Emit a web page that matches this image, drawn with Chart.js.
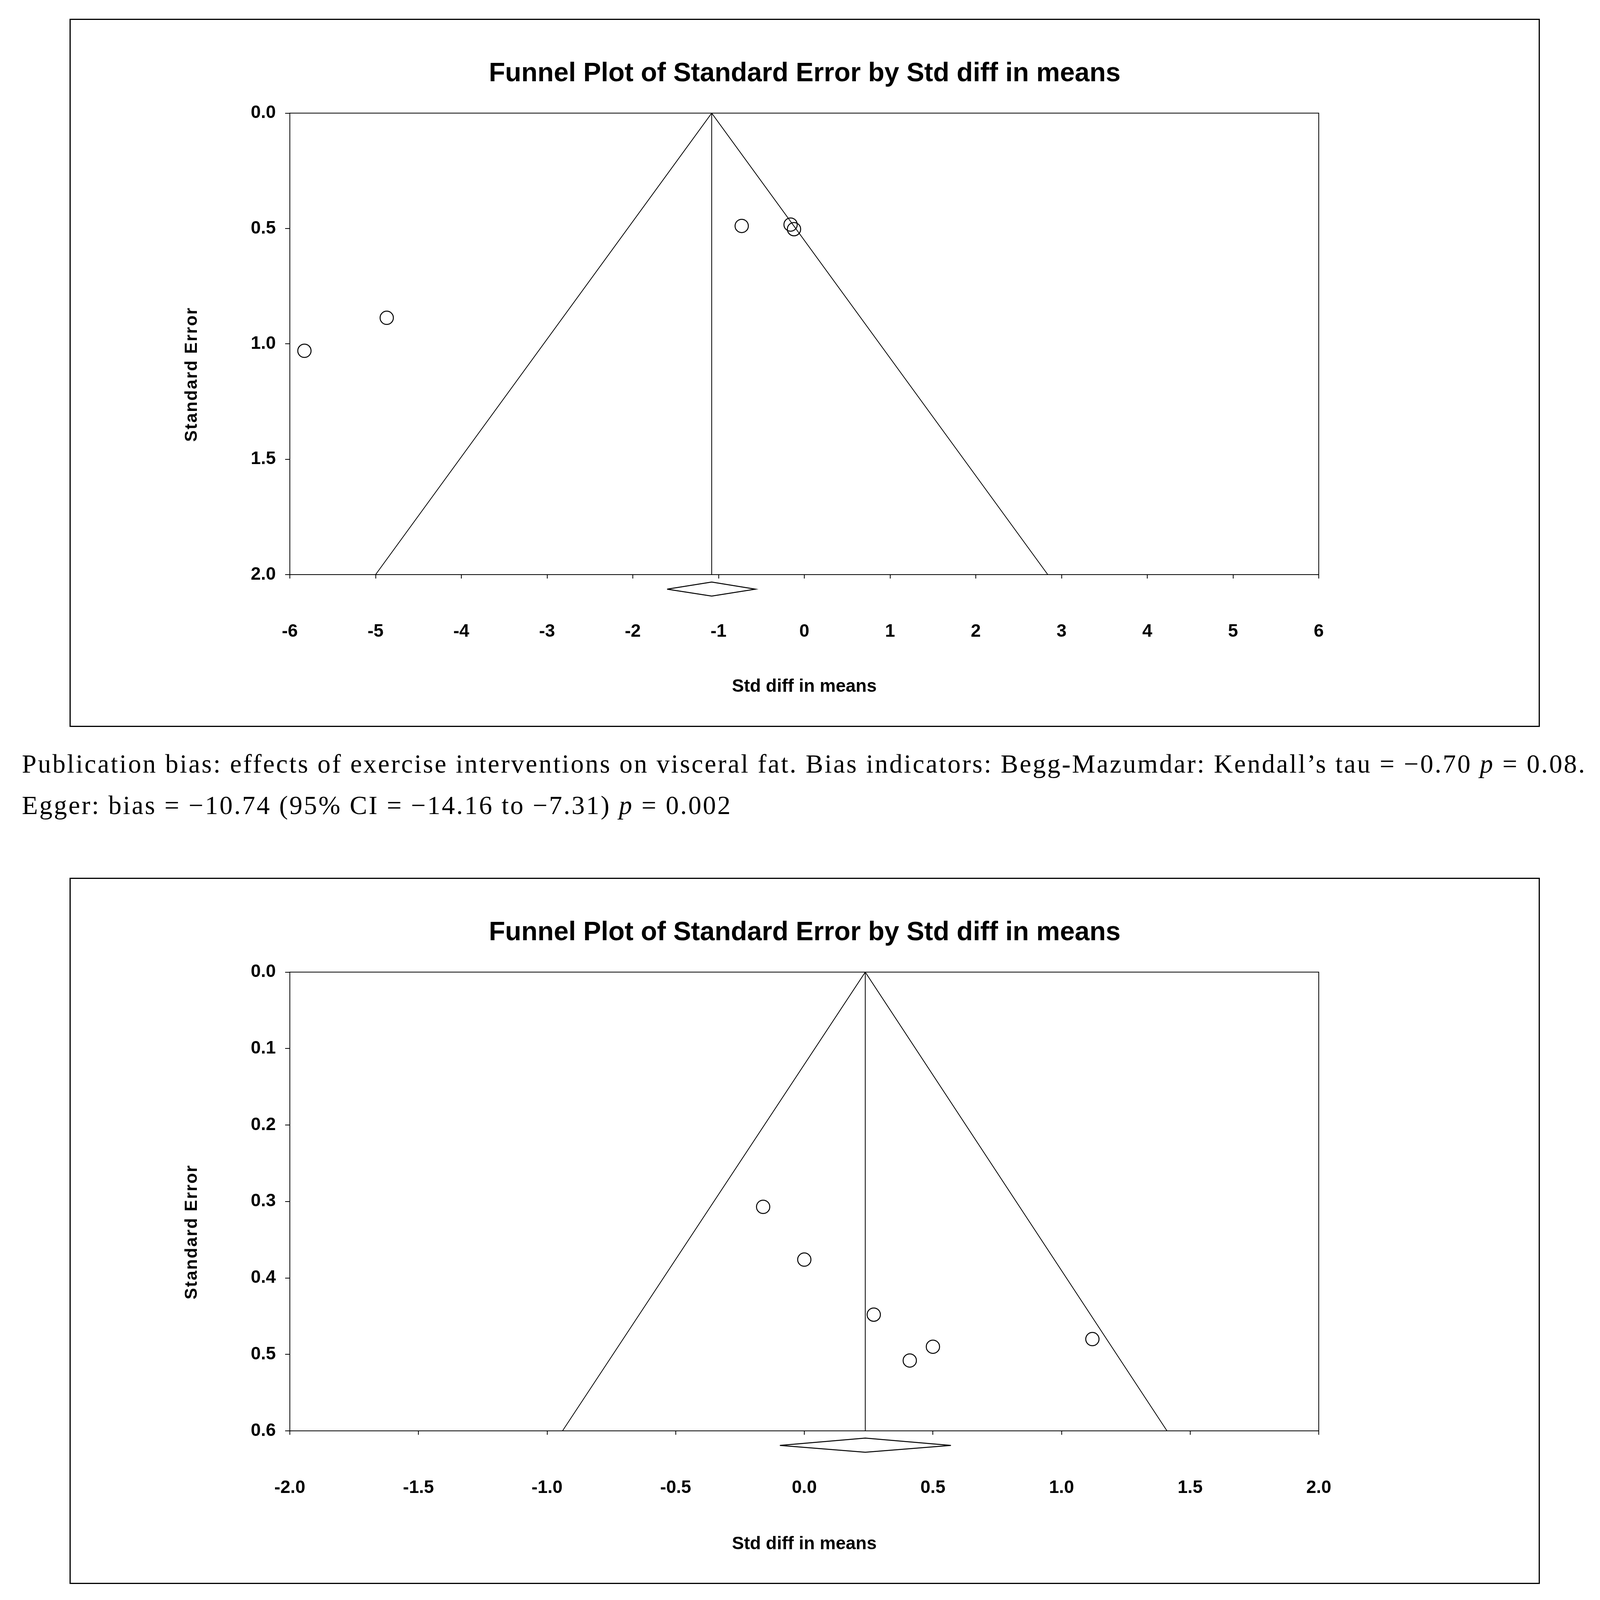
<!DOCTYPE html>
<html>
<head>
<meta charset="utf-8">
<title>Funnel plots</title>
<script src="https://cdn.jsdelivr.net/npm/chart.js@4.4.1/dist/chart.umd.min.js"></script>
<style>
  html, body { margin: 0; padding: 0; background: #fff; }
  body { position: relative; width: 4111px; height: 4351px; overflow: hidden; }
  .frame { position: absolute; left: 178px; width: 3764px; border: 3px solid #000; box-sizing: border-box; }
  canvas { position: absolute; left: 178px; }
  .caption { position: absolute; left: 56px; font-family: 'Liberation Serif', 'Times New Roman', serif; font-size: 67px; line-height: 67px; white-space: nowrap; color: #000; }
</style>
</head>
<body>
<div class="frame" style="top:48px; height:1813px;"></div>
<canvas id="chartTop" width="3764" height="1813" style="top:48px;"></canvas>
<div class="caption" id="capTop1" style="top:1922px;">Publication bias: effects of exercise interventions on visceral fat. Bias indicators: Begg-Mazumdar: Kendall’s tau = −0.70 <i>p</i> = 0.08.</div>
<div class="caption" id="capTop2" style="top:2028px;">Egger: bias = −10.74 (95% CI = −14.16 to −7.31) <i>p</i> = 0.002</div>

<div class="frame" style="top:2247px; height:1808px;"></div>
<canvas id="chartBottom" width="3764" height="1808" style="top:2247px;"></canvas>
<div class="caption" id="capBottom1" style="top:4117px;">Publication bias: effects of exercise interventions on lean body mass. Bias indicators: Begg-Mazumdar: Kendall’s tau = 0.53</div>
<div class="caption" id="capBottom2" style="top:4223px;"><i>p</i> = 0.13. Egger: bias = 4.39 (95% CI = 0.19 to 8.58) <i>p</i> = 0.04</div>

<script>
'use strict';
// ---------------------- Data: visceral fat -----------------
const topStudyX = [-5.83, -4.87, -0.73, -0.16, -0.12];
const topStudySE = [1.03, 0.887, 0.489, 0.483, 0.503];
const topFunnelX = [-5.00, -1.08, 2.84];
const topFunnelSE = [2.0, 0.0, 2.0];
const topPooledX = [-1.08, -1.08];
const topPooledSE = [0.0, 2.0];
const topDiamondX = [-1.60, -1.08, -0.57, -1.08, -1.60];
const topDiamondSE = [2.063, 2.032, 2.063, 2.093, 2.063];
const topXTicks = [-6, -5, -4, -3, -2, -1, 0, 1, 2, 3, 4, 5, 6];
const topXTickLabels = ['-6', '-5', '-4', '-3', '-2', '-1', '0', '1', '2', '3', '4', '5', '6'];
const topYTicks = [0, 0.5, 1.0, 1.5, 2.0];
const topYTickLabels = ['0.0', '0.5', '1.0', '1.5', '2.0'];

// ---------------------- Data: lean body mass -----------------
const bottomStudyX = [-0.16, 0.00, 0.27, 0.50, 0.41, 1.12];
const bottomStudySE = [0.307, 0.376, 0.448, 0.490, 0.508, 0.480];
const bottomFunnelX = [-0.94, 0.237, 1.41];
const bottomFunnelSE = [0.6, 0.0, 0.6];
const bottomPooledX = [0.237, 0.237];
const bottomPooledSE = [0.0, 0.6];
const bottomDiamondX = [-0.095, 0.237, 0.57, 0.237, -0.095];
const bottomDiamondSE = [0.619, 0.6095, 0.619, 0.628, 0.619];
const bottomXTicks = [-2.0, -1.5, -1.0, -0.5, 0.0, 0.5, 1.0, 1.5, 2.0];
const bottomXTickLabels = ['-2.0', '-1.5', '-1.0', '-0.5', '0.0', '0.5', '1.0', '1.5', '2.0'];
const bottomYTicks = [0, 0.1, 0.2, 0.3, 0.4, 0.5, 0.6];
const bottomYTickLabels = ['0.0', '0.1', '0.2', '0.3', '0.4', '0.5', '0.6'];

const chartTitle = 'Funnel Plot of Standard Error by Std diff in means';
const xTitle = 'Std diff in means';
const yTitle = 'Standard Error';

Chart.defaults.font.family = '"Liberation Sans", Arial, sans-serif';
Chart.defaults.color = '#000';

// ---------------------- Plugins -----------------
const plotFrame = {
  id: 'plotFrame',
  afterDraw(chart) {
    const { ctx, chartArea } = chart;
    ctx.save();
    ctx.strokeStyle = '#000';
    ctx.lineWidth = 2;
    ctx.strokeRect(chartArea.left, chartArea.top, chartArea.right - chartArea.left, chartArea.bottom - chartArea.top);
    ctx.restore();
  }
};

const sideTitle = {
  id: 'sideTitle',
  afterDraw(chart, args, opts) {
    const { ctx, chartArea } = chart;
    ctx.save();
    ctx.translate(chartArea.left + opts.dx, (chartArea.top + chartArea.bottom) / 2 + opts.dy);
    ctx.rotate(-Math.PI / 2);
    ctx.font = 'bold 44px "Liberation Sans", Arial, sans-serif';
    if ('letterSpacing' in ctx) {
      ctx.letterSpacing = '2.5px';
    }
    ctx.fillStyle = '#000';
    ctx.textAlign = 'center';
    ctx.textBaseline = 'middle';
    ctx.fillText(opts.text, 0, 0);
    ctx.restore();
  }
};

// -------------------- Helpers -----------------
function toPoints(xs, ys) {
  const pts = [];
  for (let i = 0; i < xs.length; i++) {
    pts.push({ x: xs[i], y: ys[i] });
  }
  return pts;
}

function lineSet(label, xs, ys, width) {
  return {
    label: label,
    data: toPoints(xs, ys),
    showLine: true,
    borderColor: '#000',
    borderWidth: width,
    pointRadius: 0,
    fill: false,
    tension: 0
  };
}

function makeFunnel(canvasId, d) {
  const context = document.getElementById(canvasId).getContext('2d');
  return new Chart(context, {
    type: 'scatter',
    data: {
      datasets: [
        lineSet('Funnel', d.funnelX, d.funnelSE, 2),
        lineSet('Pooled', d.pooledX, d.pooledSE, 2),
        {
          label: 'Studies',
          data: toPoints(d.studyX, d.studySE),
          pointStyle: 'circle',
          pointRadius: 17,
          borderWidth: 2.5,
          borderColor: '#000',
          backgroundColor: 'rgba(0,0,0,0)'
        },
        Object.assign(lineSet('Diamond', d.diamondX, d.diamondSE, 2.5), { clip: false })
      ]
    },
    options: {
      responsive: false,
      devicePixelRatio: 1,
      animation: false,
      events: [],
      layout: { padding: 0 },
      plugins: {
        legend: { display: false },
        tooltip: { enabled: false },
        title: {
          display: true,
          text: chartTitle,
          color: '#000',
          font: { size: 68, weight: 'bold' },
          padding: { top: 100, bottom: 60 }
        },
        sideTitle: { text: yTitle, dx: -250, dy: 78 }
      },
      scales: {
        x: {
          type: 'linear',
          position: 'bottom',
          min: d.xTicks[0],
          max: d.xTicks[d.xTicks.length - 1],
          afterBuildTicks: (s) => { s.ticks = d.xTicks.map((v) => ({ value: v })); },
          afterFit: (s) => { s.height = d.xHeight; },
          ticks: {
            autoSkip: false,
            maxRotation: 0,
            padding: 109,
            font: { size: 46, weight: 'bold' },
            callback: (v, i) => d.xTickLabels[i]
          },
          grid: { display: true, drawOnChartArea: false, drawTicks: true, tickLength: 10, color: '#000', lineWidth: 2 },
          border: { display: true, color: '#000', width: 2 },
          title: {
            display: true,
            text: xTitle,
            color: '#000',
            font: { size: 46, weight: 'bold' },
            padding: { top: 0, bottom: d.xTitlePad }
          }
        },
        y: {
          type: 'linear',
          position: 'left',
          reverse: true,
          min: d.yTicks[0],
          max: d.yTicks[d.yTicks.length - 1],
          afterBuildTicks: (s) => { s.ticks = d.yTicks.map((v) => ({ value: v })); },
          afterFit: (s) => { s.width = 564; },
          ticks: {
            autoSkip: false,
            padding: 24,
            font: { size: 46, weight: 'bold' },
            callback: (v, i) => d.yTickLabels[i]
          },
          grid: { display: true, drawOnChartArea: false, drawTicks: true, tickLength: 12, color: '#000', lineWidth: 2 },
          border: { display: true, color: '#000', width: 2 }
        },
        yRight: {
          type: 'linear',
          axis: 'y',
          position: 'right',
          afterFit: (s) => { s.width = 566; },
          ticks: { display: false },
          grid: { display: false },
          border: { display: false }
        }
      }
    },
    plugins: [plotFrame, sideTitle]
  });
}

function fitCaption(firstId, secondId, target) {
  const first = document.getElementById(firstId);
  const second = document.getElementById(secondId);
  const width = first.getBoundingClientRect().width;
  const spacing = (target - width) / first.textContent.length;
  first.style.letterSpacing = spacing + 'px';
  second.style.letterSpacing = spacing + 'px';
}

// ------------------ Function Calls ----------------
makeFunnel('chartTop', {
  studyX: topStudyX, studySE: topStudySE,
  funnelX: topFunnelX, funnelSE: topFunnelSE,
  pooledX: topPooledX, pooledSE: topPooledSE,
  diamondX: topDiamondX, diamondSE: topDiamondSE,
  xTicks: topXTicks, xTickLabels: topXTickLabels,
  yTicks: topYTicks, yTickLabels: topYTickLabels,
  xHeight: 390, xTitlePad: 75
});

makeFunnel('chartBottom', {
  studyX: bottomStudyX, studySE: bottomStudySE,
  funnelX: bottomFunnelX, funnelSE: bottomFunnelSE,
  pooledX: bottomPooledX, pooledSE: bottomPooledSE,
  diamondX: bottomDiamondX, diamondSE: bottomDiamondSE,
  xTicks: bottomXTicks, xTickLabels: bottomXTickLabels,
  yTicks: bottomYTicks, yTickLabels: bottomYTickLabels,
  xHeight: 392, xTitlePad: 74
});

fitCaption('capTop1', 'capTop2', 4005);
fitCaption('capBottom1', 'capBottom2', 4008);
</script>
</body>
</html>
